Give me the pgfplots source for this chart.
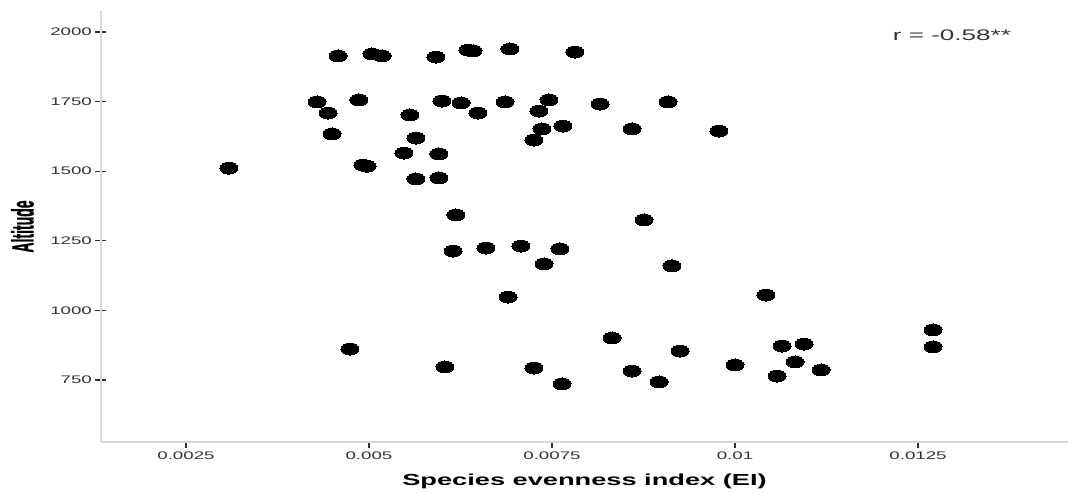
\documentclass[border=0pt]{standalone}
\usepackage{pgfplots}
\pgfplotsset{compat=1.18}
\usepackage{pgfplotstable}
\usepackage{fontspec}
\setmainfont{Liberation Sans}
\newfontfamily\widefont[FakeStretch=1.7]{Liberation Sans}
\newfontfamily\heavyfont[FakeBold=1.2]{Liberation Sans Bold}

\definecolor{axisgray}{HTML}{D9D9D9}
\definecolor{tickgray}{HTML}{333333}
\definecolor{labelgray}{HTML}{333333}

% evenness index vs altitude (m)
\pgfplotstableread{
ei        alt
0.003087  1511
0.004290  1749
0.004440  1709
0.004495  1634
0.004577  1914
0.004740   861
0.004863  1756
0.004918  1522
0.004973  1518
0.005041  1921
0.005178  1914
0.005478  1565
0.005560  1702
0.005642  1619
0.005642  1472
0.005915  1910
0.005956  1562
0.005956  1476
0.005997  1752
0.006038   797
0.006148  1213
0.006188  1343
0.006257  1745
0.006352  1935
0.006421  1932
0.006489  1709
0.006598  1224
0.006858  1749
0.006899  1048
0.006926  1939
0.007076  1231
0.007254  1612
0.007254   793
0.007322  1716
0.007363  1652
0.007391  1167
0.007459  1756
0.007609  1221
0.007637   736
0.007650  1662
0.007814  1928
0.008156  1741
0.008320   901
0.008593  1652
0.008593   782
0.008757  1325
0.008962   743
0.009085  1749
0.009139  1160
0.009249   854
0.009781  1644
0.010000   804
0.010423  1055
0.010574   764
0.010642   872
0.010820   815
0.010943   879
0.011175   786
0.012705   930
0.012705   869
}\datatable

\pgfplotsset{
  base/.style={
    scale only axis,
    width=725.25pt, height=323.25pt,
    xmin=0.001339, xmax=0.014549,
    ymin=527.3, ymax=2075.4,
    at={(0,0)}, anchor=south west,
    tick align=outside,
    scaled x ticks=false, scaled y ticks=false,
    /pgf/number format/assume math mode=true,
    ticklabel style={font=\widefont\fontsize{8.25}{10}\selectfont, text=labelgray},
  }
}

\begin{document}
\begin{tikzpicture}
% x axis and data
\begin{axis}[
  base,
  axis y line=none,
  axis x line=bottom,
  x axis line style={-, draw=axisgray, line width=0.9pt},
  xtick={0.0025,0.005,0.0075,0.01,0.0125},
  xticklabels={0.0025,0.005,0.0075,0.01,0.0125},
  major tick length=3.75pt,
  xtick style={draw=tickgray, line width=0.8pt, yshift=-2.25pt},
  xticklabel style={yshift=-4.5pt, inner sep=1pt},
  xlabel={\widefont\bfseries\fontsize{12}{14}\selectfont Species evenness index (EI)},
  xlabel style={at={(axis description cs:0.5,0)}, anchor=center, yshift=-29.25pt},
  clip=false,
]
\addplot[only marks, mark=*, mark size=4.5pt, mark options={xscale=1.5, fill=black, draw=black, line width=0pt}]
  table[x=ei, y=alt] {\datatable};
\node[font=\widefont\fontsize{11.5}{13}\selectfont, text=labelgray, anchor=center]
  at (rel axis cs:0.88,0.944) {r = -0.58**};
\end{axis}
% y axis
\begin{axis}[
  base,
  axis x line=none,
  axis y line=left,
  y axis line style={-, draw=axisgray, line width=0.9pt},
  ytick={750,1000,1250,1500,1750,2000},
  yticklabels={750,1000,1250,1500,1750,2000},
  major tick length=8.25pt,
  ytick style={draw=tickgray, line width=1pt, xshift=-0.5pt},
  yticklabel style={inner sep=2.5pt},
  ylabel={\scalebox{1}[2.2]{\heavyfont\fontsize{10.5}{12}\selectfont Altitude}},
  ylabel style={at={(axis description cs:-0.0812,0.5)}, anchor=center},
]
\end{axis}
\pgfresetboundingbox
\path[use as bounding box] (-75.75pt,-38.25pt) rectangle (725.25pt,331.5pt);
\end{tikzpicture}
\end{document}
